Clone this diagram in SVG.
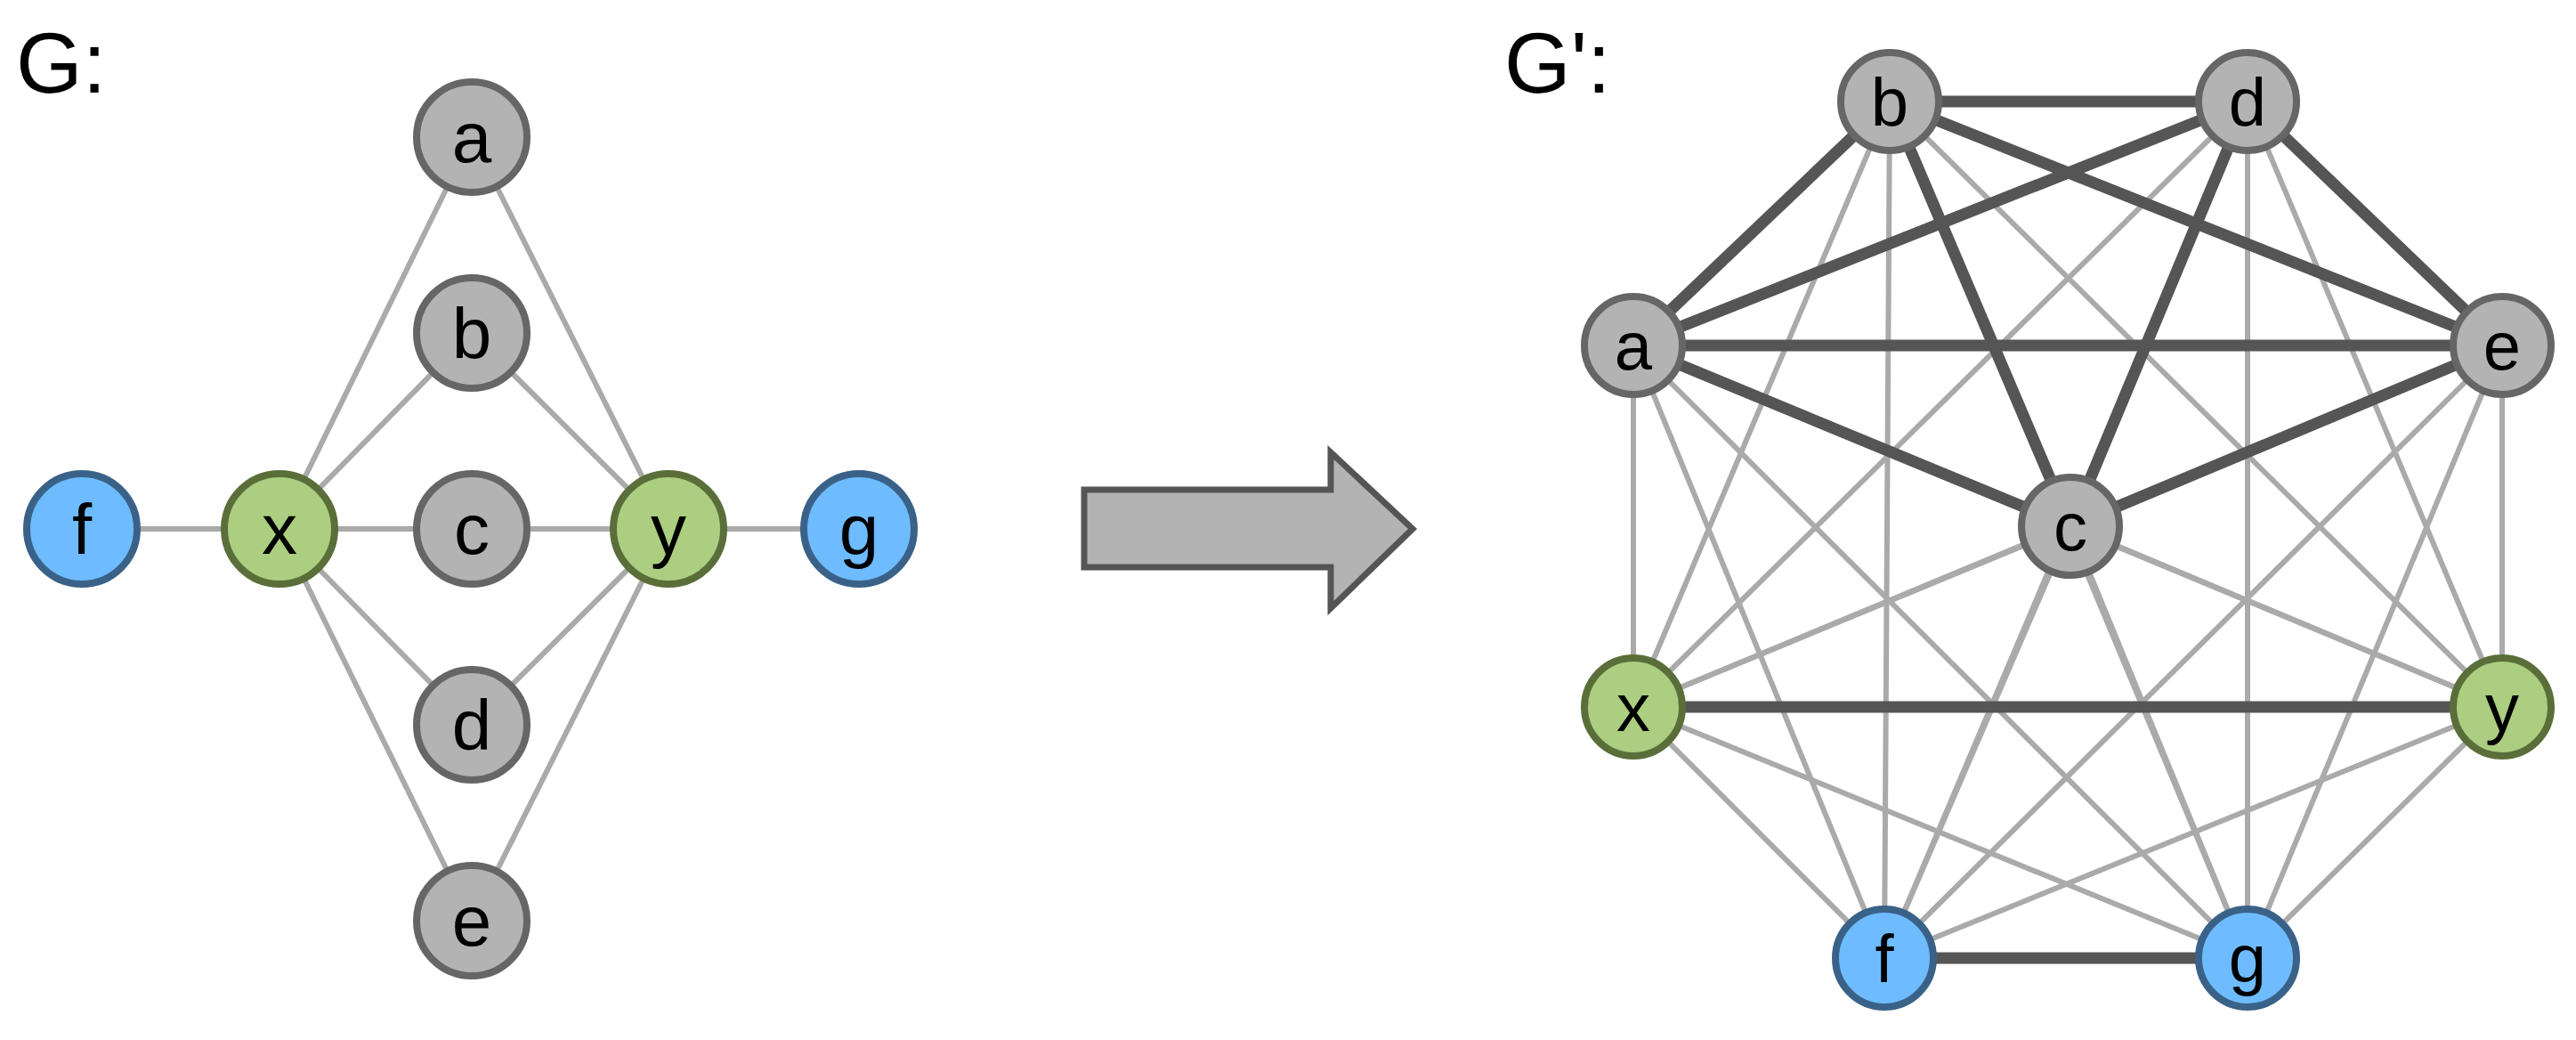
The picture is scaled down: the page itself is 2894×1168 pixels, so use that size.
<svg xmlns="http://www.w3.org/2000/svg" width="2894" height="1168" viewBox="0 0 2894 1168">
<style>
.t{stroke:#aaaaaa;stroke-width:6}
.k{stroke:#555555;stroke-width:13}
.gr{fill:#b3b3b3;stroke:#666666;stroke-width:8}
.gn{fill:#acce80;stroke:#5a6e3a;stroke-width:8}
.bl{fill:#6ebcff;stroke:#3a6288;stroke-width:8}
text{font-family:"Liberation Sans",Arial,sans-serif;fill:#000;text-anchor:middle}
.l{font-size:80px}
.r{font-size:76px}
.h{font-size:96px;text-anchor:start}
</style>
<text class="h" x="18" y="104">G:</text>
<text class="h" x="1690" y="104">G':</text>
<g id="connectors">
<g class="t">
<line x1="530" y1="154" x2="314" y2="594"/><line x1="530" y1="154" x2="751" y2="594"/>
<line x1="530" y1="374" x2="314" y2="594"/><line x1="530" y1="374" x2="751" y2="594"/>
<line x1="530" y1="594" x2="314" y2="594"/><line x1="530" y1="594" x2="751" y2="594"/>
<line x1="530" y1="814" x2="314" y2="594"/><line x1="530" y1="814" x2="751" y2="594"/>
<line x1="530" y1="1034" x2="314" y2="594"/><line x1="530" y1="1034" x2="751" y2="594"/>
<line x1="92" y1="594" x2="314" y2="594"/><line x1="751" y1="594" x2="965" y2="594"/>
</g>
<g class="t">
<!-- a=1835,388 b=2123,114 c=2326,591 d=2525,114 e=2811,388 x=1835,794 y=2811,794 f=2117,1076 g=2525,1076 -->
<line x1="1835" y1="388" x2="1835" y2="794"/><line x1="1835" y1="388" x2="2811" y2="794"/><line x1="1835" y1="388" x2="2117" y2="1076"/><line x1="1835" y1="388" x2="2525" y2="1076"/>
<line x1="2123" y1="114" x2="1835" y2="794"/><line x1="2123" y1="114" x2="2811" y2="794"/><line x1="2123" y1="114" x2="2117" y2="1076"/><line x1="2123" y1="114" x2="2525" y2="1076"/>
<line x1="2326" y1="591" x2="1835" y2="794"/><line x1="2326" y1="591" x2="2811" y2="794"/><line x1="2326" y1="591" x2="2117" y2="1076"/><line x1="2326" y1="591" x2="2525" y2="1076"/>
<line x1="2525" y1="114" x2="1835" y2="794"/><line x1="2525" y1="114" x2="2811" y2="794"/><line x1="2525" y1="114" x2="2117" y2="1076"/><line x1="2525" y1="114" x2="2525" y2="1076"/>
<line x1="2811" y1="388" x2="1835" y2="794"/><line x1="2811" y1="388" x2="2811" y2="794"/><line x1="2811" y1="388" x2="2117" y2="1076"/><line x1="2811" y1="388" x2="2525" y2="1076"/>
<line x1="1835" y1="794" x2="2117" y2="1076"/><line x1="1835" y1="794" x2="2525" y2="1076"/><line x1="2811" y1="794" x2="2117" y2="1076"/><line x1="2811" y1="794" x2="2525" y2="1076"/>
</g>
<g class="k">
<line x1="2123" y1="114" x2="2525" y2="114"/><line x1="1835" y1="388" x2="2123" y2="114"/><line x1="1835" y1="388" x2="2525" y2="114"/>
<line x1="2123" y1="114" x2="2811" y2="388"/><line x1="2525" y1="114" x2="2811" y2="388"/><line x1="1835" y1="388" x2="2811" y2="388"/>
<line x1="1835" y1="388" x2="2326" y2="591"/><line x1="2123" y1="114" x2="2326" y2="591"/><line x1="2525" y1="114" x2="2326" y2="591"/>
<line x1="2811" y1="388" x2="2326" y2="591"/><line x1="1835" y1="794" x2="2811" y2="794"/><line x1="2117" y1="1076" x2="2525" y2="1076"/>
</g>
</g>
<g id="arrow"><polygon points="1218,550 1495,550 1495,508 1587,594 1495,683 1495,637 1218,637" fill="#b3b3b3" stroke="#555555" stroke-width="7"/></g>
<g id="L_a"><circle class="gr" cx="530" cy="154" r="62"/><text class="l" x="530" y="182">a</text></g>
<g id="L_b"><circle class="gr" cx="530" cy="374" r="62"/><text class="l" x="530" y="402">b</text></g>
<g id="L_c"><circle class="gr" cx="530" cy="594" r="62"/><text class="l" x="530" y="622">c</text></g>
<g id="L_d"><circle class="gr" cx="530" cy="814" r="62"/><text class="l" x="530" y="842">d</text></g>
<g id="L_e"><circle class="gr" cx="530" cy="1034" r="62"/><text class="l" x="530" y="1062">e</text></g>
<g id="L_f"><circle class="bl" cx="92" cy="594" r="62"/><text class="l" x="92" y="622">f</text></g>
<g id="L_x"><circle class="gn" cx="314" cy="594" r="62"/><text class="l" x="314" y="622">x</text></g>
<g id="L_y"><circle class="gn" cx="751" cy="594" r="62"/><text class="l" x="751" y="622">y</text></g>
<g id="L_g"><circle class="bl" cx="965" cy="594" r="62"/><text class="l" x="965" y="622">g</text></g>
<g id="R_a"><circle class="gr" cx="1835" cy="388" r="55"/><text class="r" x="1835" y="415">a</text></g>
<g id="R_b"><circle class="gr" cx="2123" cy="114" r="55"/><text class="r" x="2123" y="141">b</text></g>
<g id="R_c"><circle class="gr" cx="2326" cy="591" r="55"/><text class="r" x="2326" y="618">c</text></g>
<g id="R_d"><circle class="gr" cx="2525" cy="114" r="55"/><text class="r" x="2525" y="141">d</text></g>
<g id="R_e"><circle class="gr" cx="2811" cy="388" r="55"/><text class="r" x="2811" y="415">e</text></g>
<g id="R_x"><circle class="gn" cx="1835" cy="794" r="55"/><text class="r" x="1835" y="821">x</text></g>
<g id="R_y"><circle class="gn" cx="2811" cy="794" r="55"/><text class="r" x="2811" y="821">y</text></g>
<g id="R_f"><circle class="bl" cx="2117" cy="1076" r="55"/><text class="r" x="2117" y="1103">f</text></g>
<g id="R_g"><circle class="bl" cx="2525" cy="1076" r="55"/><text class="r" x="2525" y="1103">g</text></g>
</svg>
